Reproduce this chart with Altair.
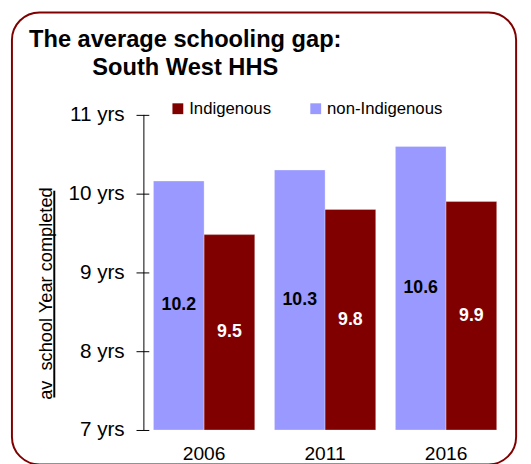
import altair as alt
import pandas as pd

years = ["2006", "2011", "2016"]
bar_order = ["non-Indigenous", "Indigenous"]
legend_order = ["Indigenous", "non-Indigenous"]
non_indigenous = [10.16, 10.30, 10.60]
indigenous = [9.48, 9.80, 9.90]
colors = ["#800000", "#9999FF"]
title_lines = ["The average schooling gap:", "South West HHS"]
y_title = "av\u00a0 school Year completed"
y_ticks = [7, 8, 9, 10, 11]

rows = []
for i, yr in enumerate(years):
    rows.append({"year": yr, "group": "non-Indigenous", "value": non_indigenous[i]})
    rows.append({"year": yr, "group": "Indigenous", "value": indigenous[i]})
df = pd.DataFrame(rows)

FONT = "Liberation Sans"
W, H = 368, 320

base = alt.Chart(df).transform_calculate(base="7", mid="(datum.value + 7) / 2")

x_enc = alt.X(
    "year:N", sort=years, title=None,
    scale=alt.Scale(paddingInner=0.1626, paddingOuter=0.079),
    axis=alt.Axis(domain=False, ticks=False, labelAngle=0, labelFontSize=19.5,
                  labelFont=FONT, labelColor="black", labelPadding=30,
                  labelBaseline="alphabetic"),
)
xo_enc = alt.XOffset("group:N", sort=bar_order,
                     scale=alt.Scale(paddingInner=0, paddingOuter=0))
y_axis = alt.Axis(
    values=y_ticks, labelExpr="datum.value + ' yrs'", grid=False,
    domain=False, tickSize=13, offset=-5, tickColor="black", labelPadding=12,
    labelFontSize=21, labelFont=FONT, labelColor="black",
    title=y_title, titleX=-99, titleY=181, titleAngle=270,
    titleBaseline="alphabetic", titleAlign="center", titleFontSize=18.5,
    titleFontWeight="normal", titleFont=FONT, titleColor="black",
)
y_scale = alt.Scale(domain=[7, 11], zero=False, nice=False)

color_enc = alt.Color(
    "group:N",
    scale=alt.Scale(domain=legend_order, range=colors),
    legend=alt.Legend(
        orient="none", legendX=26, legendY=-15, direction="horizontal",
        title=None, symbolType="square", symbolSize=121, symbolStrokeWidth=0,
        labelFontSize=17, labelFont=FONT, labelColor="black",
        columnPadding=36, labelOffset=3, padding=0,
    ),
)

bars = base.mark_bar(stroke="white", strokeWidth=1, strokeOpacity=0.3).encode(
    x=x_enc, xOffset=xo_enc,
    y=alt.Y("value:Q", scale=y_scale, axis=y_axis),
    y2=alt.Y2("base:Q"),
    color=color_enc,
)

labels = base.mark_text(font=FONT, fontSize=18, fontWeight="bold",
                        baseline="middle").encode(
    x=x_enc, xOffset=xo_enc,
    y=alt.Y("mid:Q", scale=y_scale, axis=y_axis),
    text=alt.Text("value:Q", format=".1f"),
    color=alt.condition("datum.group == 'Indigenous'", alt.value("white"),
                        alt.value("black")),
)

one = alt.Data(values=[{"k": 1}])
box = alt.Chart(one).mark_rect(fillOpacity=0, stroke="#800000", strokeWidth=2,
                               cornerRadius=28).encode(
    x=alt.value(-134), x2=alt.value(378), y=alt.value(-104), y2=alt.value(355))
underline = alt.Chart(one).mark_rule(color="black", strokeWidth=2).encode(
    x=alt.value(-91), y=alt.value(77), y2=alt.value(287))
domain_line = alt.Chart(one).mark_rule(color="black", strokeWidth=1).encode(
    x=alt.value(0), y=alt.value(0), y2=alt.value(H))

chart = alt.layer(box, bars, labels, underline, domain_line).properties(
    width=W, height=H,
    title=alt.TitleParams(
        text=title_lines, anchor="start", align="center", dx=42, font=FONT,
        fontSize=24, fontWeight="bold", color="black", baseline="alphabetic",
        lineHeight=27.5, offset=0, dy=88, frame="group",
    ),
    autosize=alt.AutoSizeParams(type="none"),
    padding={"left": 138, "top": 105, "right": 17, "bottom": 31},
).configure_view(strokeWidth=0)

chart.save("out.html", embed_options={"renderer": "svg", "actions": False})
